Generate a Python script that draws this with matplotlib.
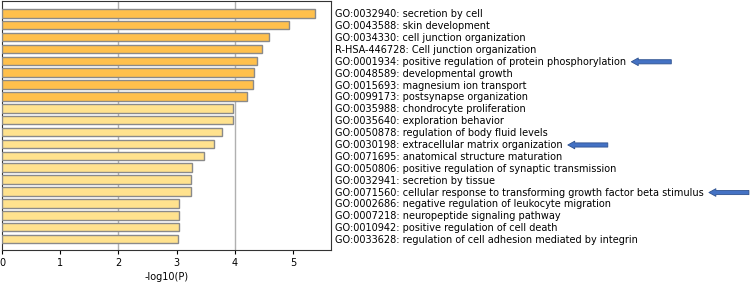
import matplotlib
matplotlib.use("Agg")
import matplotlib.pyplot as plt
import numpy as np

terms = [
    "GO:0032940: secretion by cell",
    "GO:0043588: skin development",
    "GO:0034330: cell junction organization",
    "R-HSA-446728: Cell junction organization",
    "GO:0001934: positive regulation of protein phosphorylation",
    "GO:0048589: developmental growth",
    "GO:0015693: magnesium ion transport",
    "GO:0099173: postsynapse organization",
    "GO:0035988: chondrocyte proliferation",
    "GO:0035640: exploration behavior",
    "GO:0050878: regulation of body fluid levels",
    "GO:0030198: extracellular matrix organization",
    "GO:0071695: anatomical structure maturation",
    "GO:0050806: positive regulation of synaptic transmission",
    "GO:0032941: secretion by tissue",
    "GO:0071560: cellular response to transforming growth factor beta stimulus",
    "GO:0002686: negative regulation of leukocyte migration",
    "GO:0007218: neuropeptide signaling pathway",
    "GO:0010942: positive regulation of cell death",
    "GO:0033628: regulation of cell adhesion mediated by integrin",
]
log_p = [5.38, 4.93, 4.59, 4.47, 4.38, 4.32, 4.31, 4.20, 3.97, 3.97,
         3.78, 3.64, 3.47, 3.27, 3.25, 3.24, 3.04, 3.04, 3.04, 3.02]
# terms flagged with an arrow
highlighted = ["GO:0001934", "GO:0030198", "GO:0071560"]

DARK = "#FFC04C"
LIGHT = "#FFE28E"


def main() -> None:
    fig = plt.figure(figsize=(7.5, 2.82), dpi=100)
    ax = fig.add_axes([2 / 750, 1 - 250 / 282, 329 / 750, 249 / 282])

    n = len(terms)
    y = np.arange(n)[::-1]
    colors = [DARK if v > 4.1 else LIGHT for v in log_p]
    ax.barh(y, log_p, height=0.72, color=colors, edgecolor="#8a8a8a",
            linewidth=1.0, zorder=3)

    for gx in (2, 4):
        ax.axvline(gx, color="#b0b0b0", linewidth=1.0, zorder=1)

    ax.set_xlim(0, 5.65)
    ax.set_ylim(-0.92, n - 1 + 1.03)
    ax.set_xticks(range(6))
    ax.set_xlabel("-log10(P)", fontsize=7, labelpad=3)
    ax.tick_params(axis="x", labelsize=7, length=3, pad=3)

    ax.yaxis.tick_right()
    ax.set_yticks(y)
    ax.set_yticklabels(terms, fontsize=7)
    ax.tick_params(axis="y", length=0, pad=3)
    for s in ax.spines.values():
        s.set_color("#333333")

    # blue arrows next to highlighted terms
    fig.canvas.draw()
    renderer = fig.canvas.get_renderer()
    for lab in ax.get_yticklabels():
        if lab.get_text()[:10] in highlighted:
            bb = lab.get_window_extent(renderer)
            yc = (bb.y0 + bb.y1) / 2
            x0 = bb.x1 + 5
            ax.annotate("", xy=(x0, yc), xytext=(x0 + 40, yc),
                        xycoords="figure pixels", textcoords="figure pixels",
                        annotation_clip=False,
                        arrowprops=dict(arrowstyle="simple,head_length=0.5,head_width=0.55,tail_width=0.3",
                                        fc="#4472C4", ec="#2F528F", lw=0.6,
                                        shrinkA=0, shrinkB=0))

    fig.savefig("out.png", dpi=100)
    plt.close(fig)


if __name__ == "__main__":
    main()
